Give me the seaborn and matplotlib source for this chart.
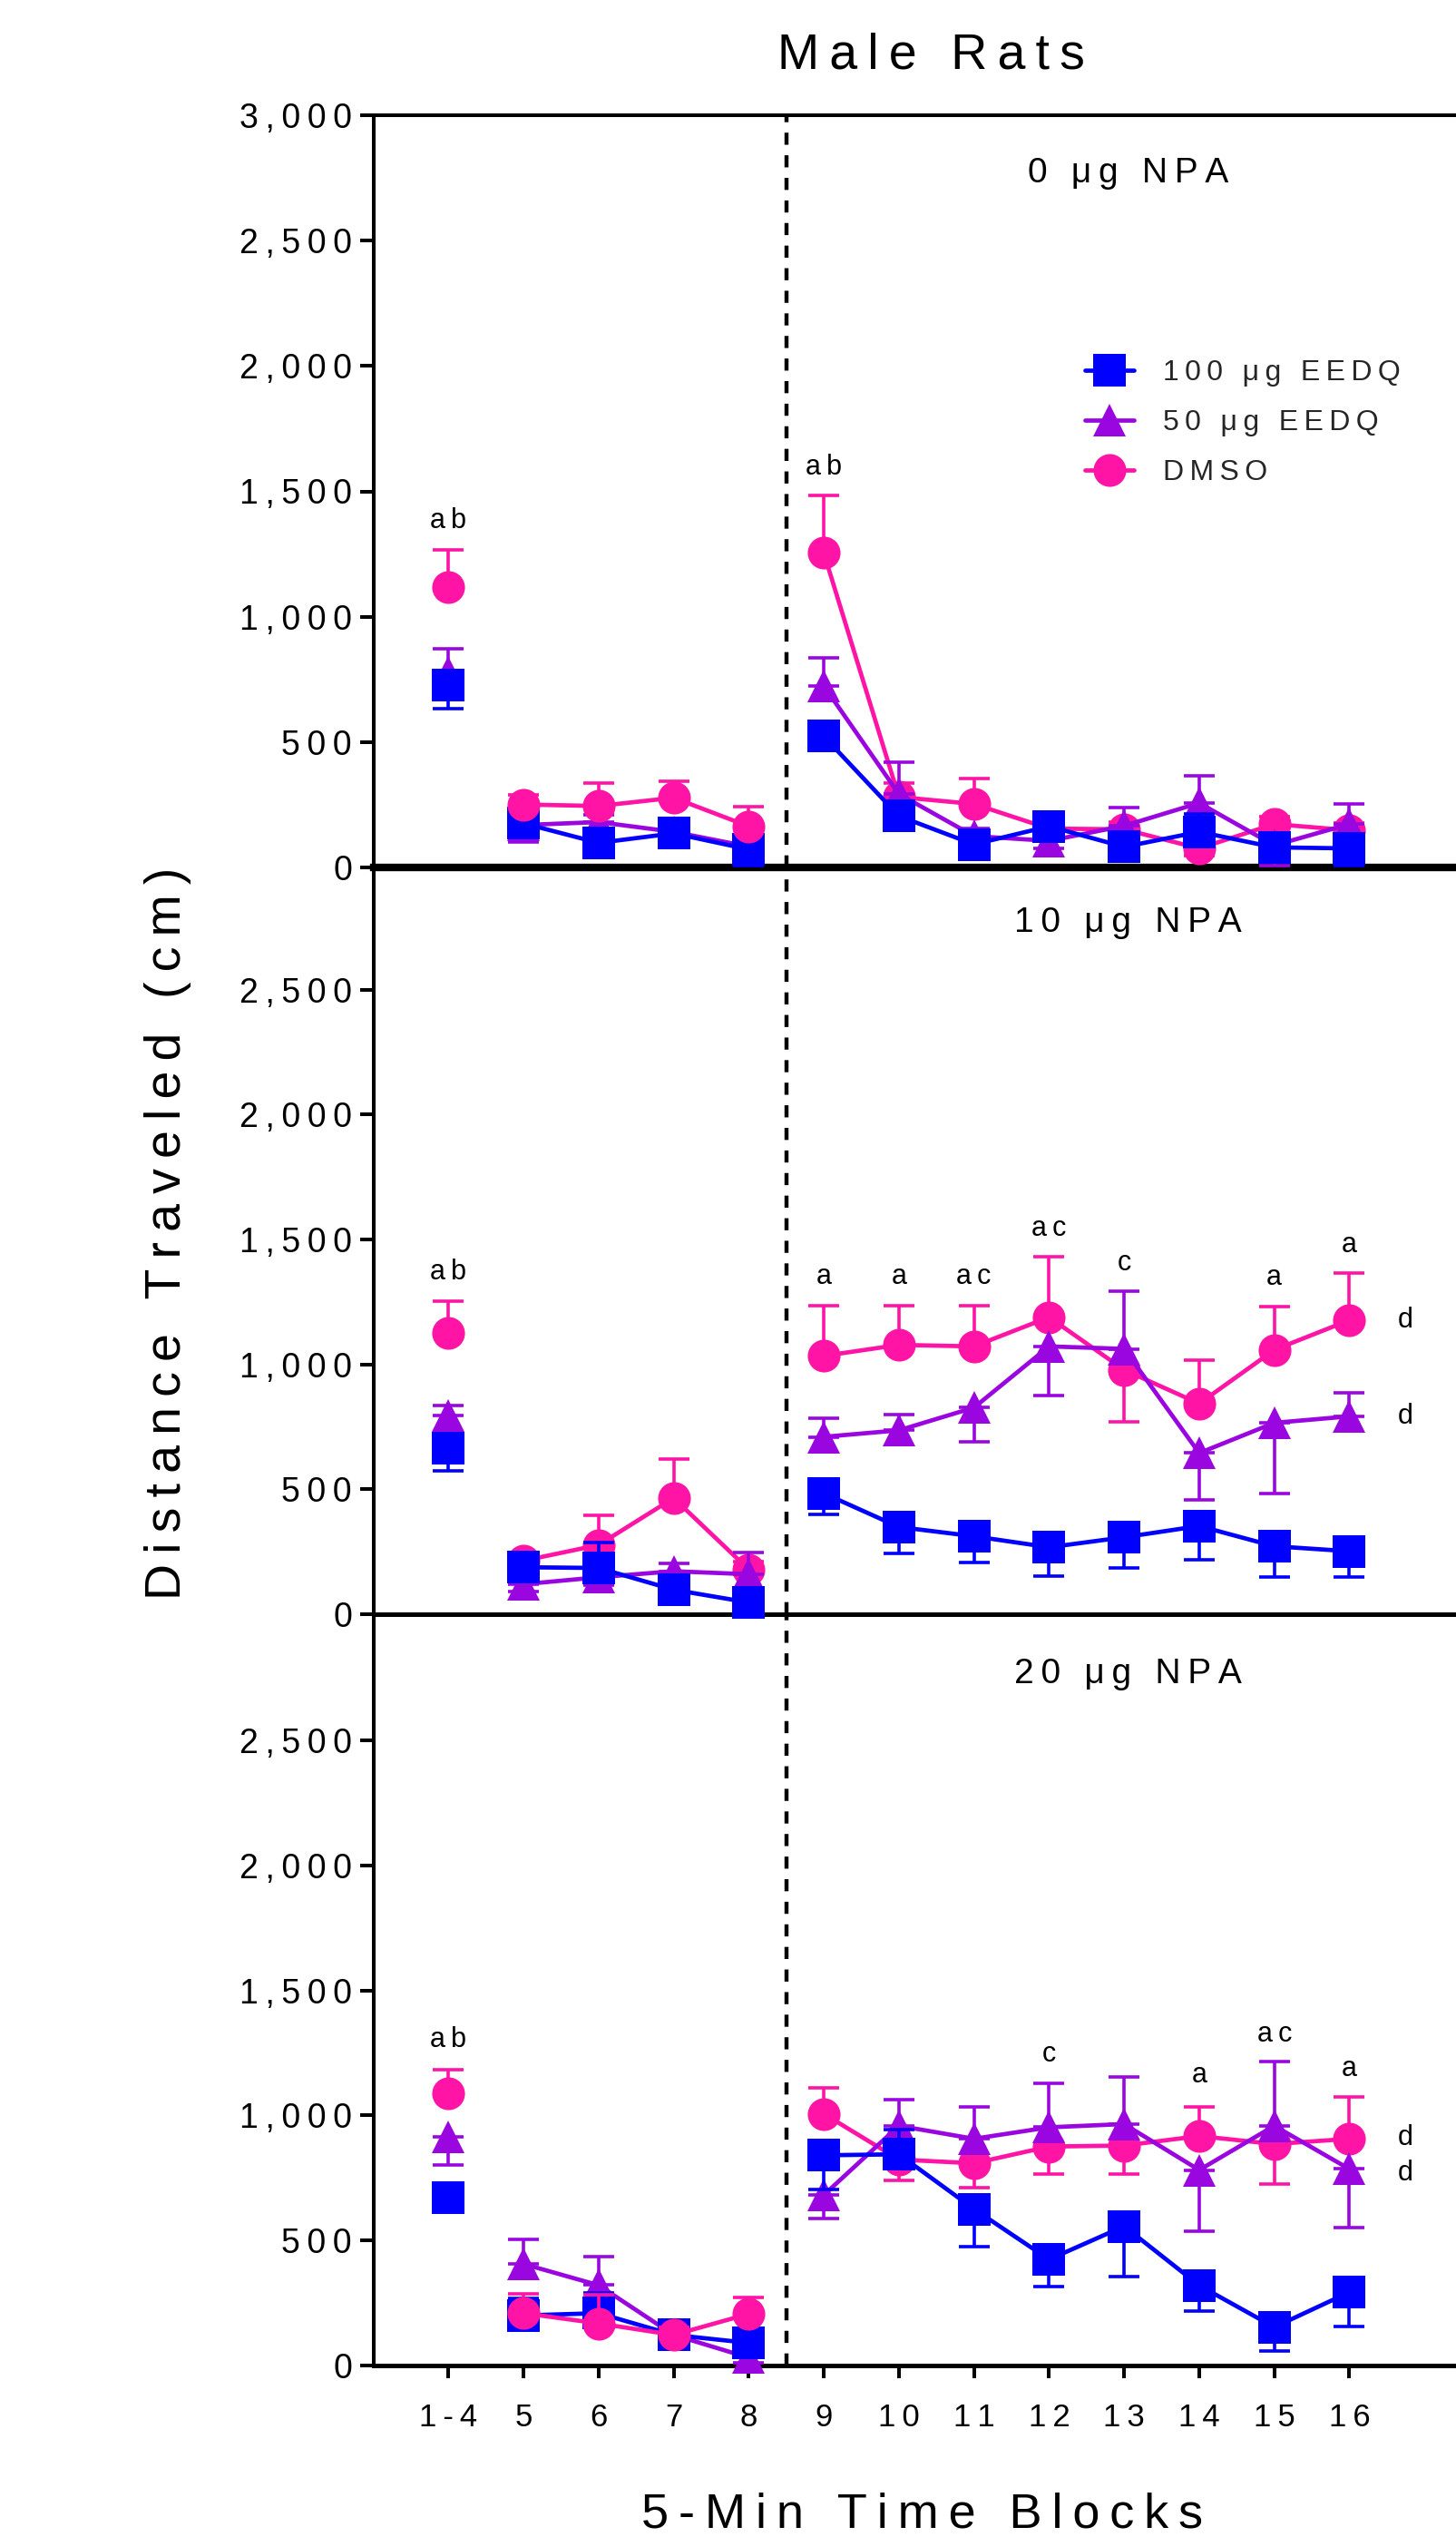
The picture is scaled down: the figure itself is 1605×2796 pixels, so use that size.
import numpy as np
import pandas as pd
import matplotlib
matplotlib.use("Agg")
import matplotlib.pyplot as plt
from matplotlib.lines import Line2D
import seaborn as sns

# ---------------- data ----------------
blocks = ["1-4", "5", "6", "7", "8", "9", "10", "11", "12", "13", "14", "15", "16"]
groups = ["100 μg EEDQ", "50 μg EEDQ", "DMSO"]
panel_titles = ["0 μg NPA", "10 μg NPA", "20 μg NPA"]
yticks_top = [0, 500, 1000, 1500, 2000, 2500, 3000]
yticks_lower = [0, 500, 1000, 1500, 2000, 2500]

# means (cm); SEM signed: + drawn above the mean, - drawn below
p1_eedq100 = [728, 176, 98, 136, 72, 523, 205, 92, 164, 82, 142, 80, 76]
p1_eedq100_sem = [-96, -30, -30, -30, -66, -40, 60, -40, 40, -40, 70, -40, -69]
p1_eedq50 = [778, 169, 181, 142, 83, 724, 293, 125, 106, 166, 257, 88, 173]
p1_eedq50_sem = [95, -67, 30, 30, 30, 113, 125, 30, -30, 72, 109, -80, 80]
p1_dmso = [1120, 251, 245, 278, 164, 1254, 281, 253, 155, 152, 76, 173, 148]
p1_dmso_sem = [147, 40, 90, 65, 77, 230, 55, 100, 30, 30, -30, 30, 30]

p2_eedq100 = [665, 188, 185, 98, 47, 484, 349, 312, 268, 308, 353, 272, 252]
p2_eedq100_sem = [-90, -30, 102, -30, -30, -85, -107, -106, -117, -121, -135, -123, -103]
p2_eedq50 = [796, 120, 148, 172, 160, 710, 736, 827, 1072, 1062, 645, 766, 792]
p2_eedq50_sem = [40, -30, -30, 30, 86, 76, 64, -137, -195, 232, -187, -282, 95]
p2_dmso = [1125, 214, 277, 465, 179, 1034, 1078, 1072, 1189, 978, 843, 1058, 1177]
p2_dmso_sem = [129, 30, 119, 156, 30, 200, 156, 162, 242, -208, 175, 172, 188]

p3_eedq100 = [672, 199, 208, 121, 89, 840, 844, 625, 423, 556, 319, 152, 292]
p3_eedq100_sem = [-30, 70, 82, -30, -30, -138, 98, -152, -110, -202, -104, -94, -136]
p3_eedq50 = [913, 405, 320, 121, 30, 681, 958, 906, 952, 965, 781, 958, 785]
p3_eedq50_sem = [-113, 97, 113, -20, -20, -94, 105, 129, 177, 187, -246, 257, -233]
p3_dmso = [1089, 208, 167, 121, 205, 1006, 823, 808, 875, 879, 917, 885, 906]
p3_dmso_sem = [94, 76, 114, 30, 65, 104, -83, -96, -110, -114, 118, -160, 167]

# significance letters: (block position, height, text)
p1_letters = [(0, 1381, "ab"), (5, 1596, "ab")]
p2_letters = [(0, 1371, "ab"), (5, 1351, "a"), (6, 1351, "a"), (7, 1351, "ac"),
              (8, 1542, "ac"), (9, 1405, "c"), (11, 1347, "a"), (12, 1478, "a"),
              (12.74, 1177, "d"), (12.74, 792, "d")]
p3_letters = [(0, 1302, "ab"), (8, 1244, "c"), (10, 1160, "a"), (11, 1323, "ac"),
              (12, 1188, "a"), (12.74, 910, "d"), (12.74, 767, "d")]

panels = [
    (p1_eedq100, p1_eedq100_sem, p1_eedq50, p1_eedq50_sem, p1_dmso, p1_dmso_sem),
    (p2_eedq100, p2_eedq100_sem, p2_eedq50, p2_eedq50_sem, p2_dmso, p2_dmso_sem),
    (p3_eedq100, p3_eedq100_sem, p3_eedq50, p3_eedq50_sem, p3_dmso, p3_dmso_sem),
]
letters = [p1_letters, p2_letters, p3_letters]

rows = []
for pi, vals in enumerate(panels):
    for gi, g in enumerate(groups):
        means, sems = vals[2 * gi], vals[2 * gi + 1]
        for bi, b in enumerate(blocks):
            seg = "base" if bi == 0 else ("pre" if bi <= 4 else "post")
            rows.append(dict(panel=pi, group=g, x=bi, block=b, mean=means[bi],
                             sem=sems[bi], seg=seg))
df = pd.DataFrame(rows)

# ---------------- style ----------------
sns.set_style("white")
plt.rcParams["font.family"] = ["Liberation Sans", "DejaVu Sans"]
plt.rcParams["axes.unicode_minus"] = False

colors = {"100 μg EEDQ": "#0000FF", "50 μg EEDQ": "#9A06E0", "DMSO": "#FF14A6"}
markers = {"100 μg EEDQ": "s", "50 μg EEDQ": "^", "DMSO": "o"}
base_z = {"100 μg EEDQ": 5, "50 μg EEDQ": 4, "DMSO": 3}
pink_top = {(0, "pre"), (2, "pre")}

T = "\u2009"


def spaced(s):
    return T.join(s)


W, H = 1605, 2796
fig = plt.figure(figsize=(W / 100, H / 100), dpi=100)
left = 411.5 / W
width = 1 - left
pos = [
    [left, (H - 956) / H, width, 829 / H],
    [left, (H - 1779) / H, width, 826 / H],
    [left, (H - 2606.6) / H, width, 826 / H],
]

MS = 26
LW = 3.4
for pi in range(3):
    ax = fig.add_axes(pos[pi])
    ax.set_facecolor("none")
    sub_p = df[df.panel == pi]
    for g in groups:
        c = colors[g]
        for seg in ["base", "pre", "post"]:
            d = sub_p[(sub_p.group == g) & (sub_p.seg == seg)]
            z = base_z[g]
            if g == "DMSO" and (pi, seg) in pink_top:
                z = 6
            sns.lineplot(data=d, x="x", y="mean", ax=ax, color=c, marker=markers[g],
                         markersize=MS, markeredgewidth=0, lw=LW, errorbar=None,
                         legend=False, zorder=z, clip_on=False)
            lo = np.where(d["sem"] < 0, -d["sem"], 0)
            hi = np.where(d["sem"] > 0, d["sem"], 0)
            ax.errorbar(d["x"], d["mean"], yerr=[lo, hi], fmt="none", ecolor=c,
                        elinewidth=2.6, capsize=12.5, capthick=2.6, zorder=z - 0.5,
                        clip_on=False)

    ax.axvline(4.5, color="black", lw=3.2, ls=(0, (3.0, 2.6)), zorder=1)
    ax.set_xlim(-1, 13.42)
    ax.set_ylim(0, 3000)
    ticks = yticks_top if pi == 0 else yticks_lower
    ax.set_yticks(ticks)
    ax.set_yticklabels([spaced(f"{t:,}") for t in ticks])
    ax.tick_params(axis="y", direction="out", length=11, width=2.9, labelsize=27,
                   pad=6, left=True, colors="black")
    ax.set_xlabel("")
    ax.set_ylabel("")
    ax.spines["right"].set_visible(False)
    ax.spines["left"].set_linewidth(2.9)
    ax.spines["left"].set_color("black")
    ax.spines["top"].set_visible(pi == 0)
    ax.spines["top"].set_linewidth(2.9)
    ax.spines["top"].set_color("black")
    ax.spines["bottom"].set_color("black")
    ax.spines["bottom"].set_linewidth(6 if pi == 0 else 3.6)
    if pi == 2:
        ax.set_xticks(range(len(blocks)))
        ax.set_xticklabels([spaced(b) for b in blocks])
        ax.tick_params(axis="x", direction="out", length=10, width=2.9,
                       labelsize=25, pad=20, bottom=True, colors="black")
    else:
        ax.set_xticks([])

    ax.text(9.05, 2767, spaced(panel_titles[pi]), ha="center", va="center",
            fontsize=28, color="black")
    for (lx, ly, lt) in letters[pi]:
        ax.text(lx, ly, spaced(lt), ha="center", va="center", fontsize=22,
                color="black")

    if pi == 0:
        handles = [Line2D([0], [0], color=colors[g], marker=markers[g], markersize=MS,
                          markeredgewidth=0, lw=LW) for g in groups]
        ax.legend(handles, [spaced(g) for g in groups], loc="upper left",
                  bbox_to_anchor=(0.657, 0.675), frameon=False, fontsize=23,
                  handlelength=1.7, handletextpad=1.0, labelspacing=0.78,
                  borderpad=0, borderaxespad=0)

fig.text(1026 / W, 1 - 75 / H, spaced("Male Rats"), ha="center", va="baseline",
         fontsize=40, color="black")
fig.text(185 / W, 1 - 1359 / H, spaced("Distance Traveled (cm)"), ha="center",
         va="center", rotation=90, fontsize=40, color="black")
fig.text(1017 / W, 1 - 2785 / H, spaced("5-Min Time Blocks"), ha="center",
         va="baseline", fontsize=39, color="black")

fig.savefig("out.png", dpi=100, facecolor="white")
